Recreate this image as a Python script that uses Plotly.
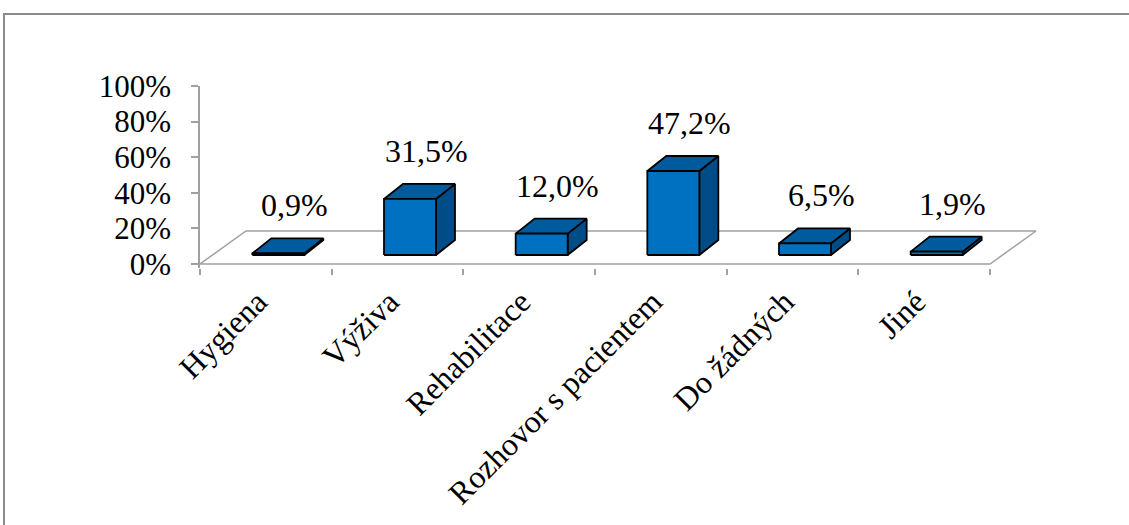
import plotly.graph_objects as go

# ---- data ----
categories = ["Hygiena", "Výživa", "Rehabilitace", "Rozhovor s pacientem", "Do žádných", "Jiné"]
shares = [0.9, 31.5, 12.0, 47.2, 6.5, 1.9]          # percent of respondents
y_ticks = [0, 20, 40, 60, 80, 100]
y_tick_text = ["0%", "20%", "40%", "60%", "80%", "100%"]

# ---- page geometry (pixels) ----
W, H = 1129, 525
AX_LEFT = 200        # y axis / left edge of floor front
FRONT_RIGHT = 990    # right edge of floor front
DOM_RIGHT = 1045     # plot area extends right to hold the floor's depth
Y_TOP = 86           # pixel row of 100 %
Y_ZERO = 264         # pixel row of 0 %
Y_MIN = -2           # small margin below the floor front edge

n = len(categories)
ux = (FRONT_RIGHT - AX_LEFT) / n        # px per category
uy = (Y_ZERO - Y_TOP) / 100.0           # px per percent

x_range = [-0.5, -0.5 + (DOM_RIGHT - AX_LEFT) / ux]
y_bottom_px = Y_ZERO - Y_MIN * uy

# 3-D look: floor depth, bar placement and bar depth (pixels -> data units)
FLOOR_DX, FLOOR_DY = 46 / ux, 33 / uy
BAR_W = 52 / ux
BAR_FX, BAR_FY = 12.5 / ux, 9 / uy
BAR_DX, BAR_DY = 19 / ux, 15 / uy

FONT = "Times New Roman, Liberation Serif, serif"
GRAY = "#8a8a8a"
FLOOR_GRAY = "#a0a0a0"
FRONT_C = "#0070C0"
TOP_C = "#005A9E"
SIDE_C = "#004C86"

fig = go.Figure()


def poly(xs, ys, fill, line="black", width=1.8):
    fig.add_trace(go.Scatter(
        x=xs + [xs[0]], y=ys + [ys[0]], mode="lines", fill="toself",
        fillcolor=fill, line=dict(color=line, width=width),
        hoverinfo="skip", showlegend=False))


# floor
fx0, fx1 = -0.5, n - 0.5
poly([fx0, fx1, fx1 + FLOOR_DX, fx0 + FLOOR_DX],
     [0, 0, FLOOR_DY, FLOOR_DY], "white", FLOOR_GRAY, 1.5)

# bars: side, top and front faces of each box
for i, v in enumerate(shares):
    x0 = i - BAR_W / 2 + BAR_FX
    x1 = x0 + BAR_W
    b = BAR_FY
    t = b + v
    poly([x1, x1 + BAR_DX, x1 + BAR_DX, x1],
         [b, b + BAR_DY, t + BAR_DY, t], SIDE_C)
    poly([x0, x1, x1 + BAR_DX, x0 + BAR_DX],
         [t, t, t + BAR_DY, t + BAR_DY], TOP_C)
    poly([x0, x1, x1, x0], [b, b, t, t], FRONT_C)
    fig.add_annotation(
        x=i + BAR_FX + BAR_DX / 2 + 0.05, y=t, xref="x", yref="y",
        text=f"{v:.1f}%".replace(".", ","), showarrow=False,
        yanchor="middle", yshift=48,
        font=dict(family=FONT, size=32, color="black"))

# outer chart border
fig.add_shape(type="rect", xref="paper", yref="paper",
              x0=4 / W, x1=1.02, y0=-0.05, y1=(H - 14) / H,
              line=dict(color=GRAY, width=2), fillcolor="rgba(0,0,0,0)")

fig.update_layout(
    width=W, height=H,
    margin=dict(l=0, r=0, t=0, b=0),
    paper_bgcolor="white", plot_bgcolor="rgba(0,0,0,0)",
    showlegend=False,
    xaxis=dict(
        domain=[AX_LEFT / W, DOM_RIGHT / W], range=x_range,
        tickmode="array", tickvals=list(range(n)), ticktext=categories,
        tickangle=-45, ticks="", showline=False, showgrid=False,
        zeroline=False, automargin=False, fixedrange=True,
        ticklabelshift=-8, ticklabelstandoff=8,
        tickfont=dict(family=FONT, size=32, color="black"),
        minor=dict(tickmode="array", tickvals=[k - 0.5 for k in range(n + 1)],
                   ticks="outside", ticklen=6, tickwidth=1.5, tickcolor=FLOOR_GRAY,
                   showgrid=False),
    ),
    yaxis=dict(
        domain=[(H - y_bottom_px) / H, (H - Y_TOP) / H], range=[Y_MIN, 100],
        tickmode="array", tickvals=y_ticks, ticktext=y_tick_text,
        ticks="outside", ticklen=7, tickwidth=1.5, tickcolor=FLOOR_GRAY,
        showline=True, linecolor=FLOOR_GRAY, linewidth=1.5,
        showgrid=False, zeroline=False, automargin=False, fixedrange=True,
        ticklabelstandoff=14,
        tickfont=dict(family=FONT, size=31, color="black"),
    ),
)

fig.write_html("out.html")
